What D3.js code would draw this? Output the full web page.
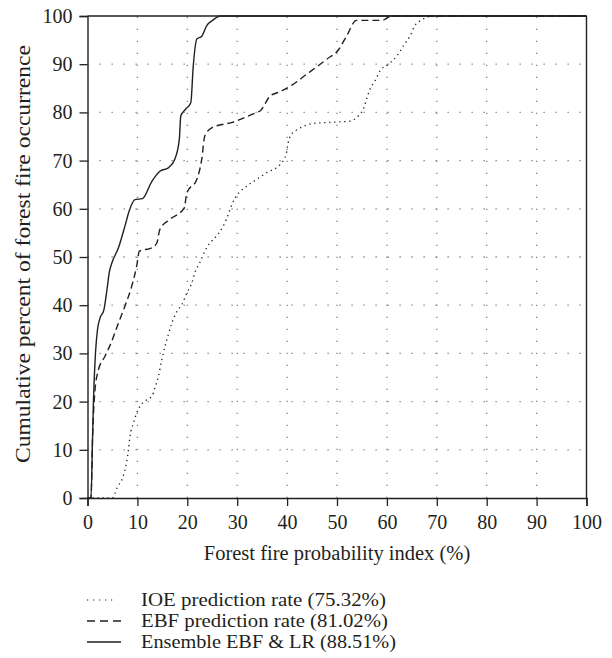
<!DOCTYPE html>
<html>
<head>
<meta charset="utf-8">
<script src="https://cdn.jsdelivr.net/npm/d3@7"></script>
<style>
  html, body { margin: 0; padding: 0; background: #fff; }
  svg { display: block; }
  text { font-family: "Liberation Serif", "DejaVu Serif", serif; fill: #231f20; }
</style>
</head>
<body>
<svg id="chart" width="612" height="658"></svg>
<script>
// Cumulative percent of forest fire occurrence vs. probability index (%)
const xTicks = [0, 10, 20, 30, 40, 50, 60, 70, 80, 90, 100];
const yTicks = [0, 10, 20, 30, 40, 50, 60, 70, 80, 90, 100];

// IOE prediction rate curve: [index %, cumulative %]
const ioePoints = [
  [0, 0], [5.0, 0], [5.5, 1.0], [6.0, 2.3], [6.85, 3.7], [7.5, 5.8], [7.85, 7.5],
  [8.2, 10.0], [8.5, 12.7], [9.2, 15.5], [9.85, 17.6], [10.5, 19.0], [11.9, 20.4],
  [12.9, 21.1], [13.5, 22.8], [14.2, 25.2], [14.9, 28.7], [15.5, 31.4], [16.2, 33.9],
  [16.9, 36.3], [17.9, 38.7], [18.9, 40.1], [19.9, 42.5], [20.9, 44.6], [21.5, 46.7],
  [22.5, 48.8], [23.5, 51.2], [24.5, 52.9], [25.2, 53.6], [27.2, 56.4], [29.6, 62.3],
  [31.9, 64.7], [33.9, 66.1], [35.9, 67.5], [38.6, 69.2], [39.8, 71.3], [40.2, 73.7],
  [40.9, 75.5], [42.2, 76.5], [45.2, 77.7], [49.9, 78.0], [52.6, 78.2], [54.3, 79.3],
  [55.4, 81.0], [55.9, 82.7], [56.6, 84.8], [57.6, 86.5], [58.6, 88.6], [60.3, 90.0],
  [62.0, 91.7], [63.3, 93.8], [64.6, 95.8], [65.6, 98.0], [67.0, 99.2], [68.6, 99.9],
  [70.0, 100], [100, 100]
];

// EBF prediction rate curve
const ebfPoints = [
  [0, 0], [0.7, 0], [1.0, 12.0], [1.5, 22.4], [2.2, 26.6], [3.5, 29.4], [4.85, 32.5],
  [6.2, 36.3], [7.5, 39.8], [8.85, 43.9], [9.85, 48.1], [10.4, 51.2], [12.9, 51.9],
  [13.9, 52.9], [14.5, 55.7], [16.5, 57.8], [19.4, 60.2], [19.9, 63.3], [21.9, 66.1],
  [22.9, 70.3], [23.5, 75.1], [24.9, 76.8], [29.2, 78.0], [33.9, 80.0], [34.6, 80.3],
  [36.6, 83.4], [38.6, 84.3], [40.9, 85.6], [43.9, 87.9], [47.9, 91.0], [50.3, 93.0],
  [51.9, 95.8], [53.9, 99.1], [59.0, 99.1], [61.0, 100], [100, 100]
];

// Ensemble EBF & LR curve
const ensPoints = [
  [0, 0], [0.7, 0], [1.0, 12.0], [1.2, 20.4], [1.6, 30.1], [2.0, 34.9], [2.5, 37.3],
  [3.3, 39.1], [3.9, 43.2], [4.4, 47.0], [4.9, 48.8], [6.2, 51.9], [7.5, 56.4],
  [8.4, 59.7], [9.5, 61.9], [11.0, 62.1], [12.9, 65.7], [14.5, 67.8], [16.2, 68.5],
  [17.5, 70.3], [18.4, 74.4], [18.7, 79.3], [19.7, 80.7], [20.7, 82.0], [21.2, 89.7],
  [21.9, 95.2], [22.9, 95.8], [23.9, 98.0], [25.2, 99.2], [26.6, 100], [100, 100]
];

const seriesNames = [
  "IOE prediction rate (75.32%)",
  "EBF prediction rate (81.02%)",
  "Ensemble EBF & LR (88.51%)"
];

const xTitle = "Forest fire probability index (%)";
const yTitle = "Cumulative percent of forest fire occurrence";

const svg = d3.select("#chart");
const ink = "#231f20";

const x = d3.scaleLinear().domain([0, 100]).range([87.5, 586.5]);
const y = d3.scaleLinear().domain([0, 100]).range([498, 16]);

// dotted grid
const grid = svg.append("g").attr("stroke", "#808080").attr("stroke-width", 1.3)
  .attr("stroke-dasharray", "1.3,10.7");
grid.selectAll("line.v").data(xTicks.filter(d => d > 0 && d < 100)).join("line")
  .attr("class", "v")
  .attr("x1", d => x(d)).attr("x2", d => x(d))
  .attr("y1", y(0)).attr("y2", y(100));
grid.selectAll("line.h").data(yTicks.filter(d => d > 0 && d < 100)).join("line")
  .attr("class", "h")
  .attr("x1", x(0)).attr("x2", x(100))
  .attr("y1", d => y(d)).attr("y2", d => y(d));

const line = d3.line().x(d => x(d[0])).y(d => y(d[1])).curve(d3.curveMonotoneX);

const styles = [
  { data: ioePoints, dash: "1.3,3.7", width: 1.3, legendDash: "1.2,4.8", legendEnd: 114, textLen: 245 },
  { data: ebfPoints, dash: "7,4", width: 1.4, legendDash: "8,5", legendEnd: 121, textLen: 247 },
  { data: ensPoints, dash: null, width: 1.4, legendDash: null, legendEnd: 121, textLen: 255 }
];

styles.forEach(s => {
  svg.append("path").datum(s.data)
    .attr("d", line)
    .attr("fill", "none")
    .attr("stroke", ink)
    .attr("stroke-width", s.width)
    .attr("stroke-dasharray", s.dash);
});

// axes
const tickFont = 20;
const xAxis = svg.append("g").attr("transform", `translate(0,${y(0)})`)
  .call(d3.axisBottom(x).tickValues(xTicks).tickSize(8).tickPadding(9));
const yAxis = svg.append("g").attr("transform", `translate(${x(0)},0)`)
  .call(d3.axisLeft(y).tickValues(yTicks).tickSize(8).tickPadding(7));
[xAxis, yAxis].forEach(g => {
  g.select(".domain").attr("stroke", ink).attr("stroke-width", 1.4);
  g.selectAll(".tick line").attr("stroke", ink).attr("stroke-width", 1.3);
  g.selectAll(".tick text").attr("font-size", tickFont)
    .style("font-family", "'Liberation Serif', serif").attr("fill", ink);
});

// frame: top and right
svg.append("line").attr("x1", x(0)).attr("x2", x(100)).attr("y1", y(100)).attr("y2", y(100))
  .attr("stroke", ink).attr("stroke-width", 1.4);
svg.append("line").attr("x1", x(100)).attr("x2", x(100)).attr("y1", y(100)).attr("y2", y(0))
  .attr("stroke", ink).attr("stroke-width", 1.4);

// axis titles
svg.append("text").attr("x", (x(0) + x(100)) / 2).attr("y", 560)
  .attr("text-anchor", "middle").attr("font-size", 20.5).text(xTitle);
svg.append("text")
  .attr("transform", `translate(30,254) rotate(-90)`)
  .attr("text-anchor", "middle").attr("font-size", 22)
  .attr("textLength", 418).attr("lengthAdjust", "spacingAndGlyphs")
  .text(yTitle);

// legend
const legend = svg.append("g");
styles.forEach((s, i) => {
  const base = 606 + i * 21;
  legend.append("line")
    .attr("x1", 87).attr("x2", s.legendEnd)
    .attr("y1", base - 6).attr("y2", base - 6)
    .attr("stroke", ink).attr("stroke-width", i === 0 ? 1.1 : 1.3)
    .attr("stroke-dasharray", s.legendDash);
  legend.append("text").attr("x", 141).attr("y", base)
    .attr("font-size", 18.8)
    .attr("textLength", s.textLen).attr("lengthAdjust", "spacingAndGlyphs")
    .text(seriesNames[i]);
});
</script>
</body>
</html>
